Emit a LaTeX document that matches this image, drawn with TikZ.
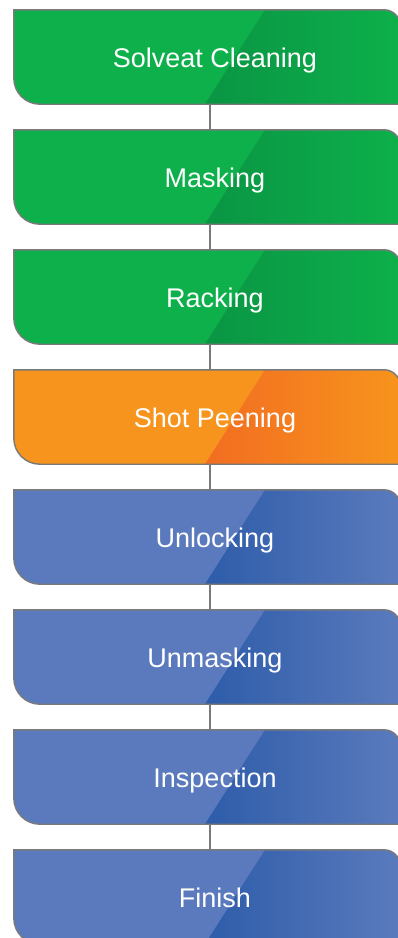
\documentclass[tikz,border=0pt]{standalone}
\usepackage{fontspec}
\setmainfont{Liberation Sans}
\usetikzlibrary{calc,positioning,backgrounds}
\definecolor{greenbase}{HTML}{0DB04B}
\definecolor{greendark}{HTML}{0A9544}
\definecolor{orangebase}{HTML}{F7941D}
\definecolor{orangedark}{HTML}{F26D21}
\definecolor{bluebase}{HTML}{5A7ABD}
\definecolor{bluedark}{HTML}{2E5CA9}
\definecolor{edgegray}{HTML}{7A7A7A}

\begin{document}
\begin{tikzpicture}[x=1pt,y=1pt,
  stepbox/.style={minimum width=386pt,minimum height=94pt,inner sep=0pt,
    text=white,font=\fontsize{27}{32}\selectfont,text height=20pt,text depth=0pt,
    execute at begin node=\hspace*{16pt}},
  boxshape/.style={insert path={(#1.north west) -- ([xshift=-16pt]#1.north east)
    arc[start angle=90,end angle=0,radius=16pt] -- (#1.south east)
    -- ([xshift=26pt]#1.south west) arc[start angle=270,end angle=180,radius=26pt] -- cycle}},
  outline/.style={draw=edgegray,line width=1.4pt},
  link/.style={draw=edgegray,line width=1.4pt}]
\useasboundingbox (0,0) rectangle (398,-938);
% process steps
\foreach \name/\txt/\base/\dark [count=\i] in {
    clean/Solveat Cleaning/greenbase/greendark,
    mask/Masking/greenbase/greendark,
    rack/Racking/greenbase/greendark,
    peen/Shot Peening/orangebase/orangedark,
    unlock/Unlocking/bluebase/bluedark,
    unmask/Unmasking/bluebase/bluedark,
    inspect/Inspection/bluebase/bluedark,
    finish/Finish/bluebase/bluedark}{
  \node[stepbox] (\name) at (207,{-57-(\i-1)*120}) {\txt};
  \begin{scope}[on background layer]
    \begin{scope}
      \clip[boxshape=\name];
      \fill[\base] (\name.north west) rectangle (\name.south east);
      \shade[left color=\dark,right color=\base]
        ([xshift=58pt]\name.north) -- (\name.north east)
        -- (\name.south east) -- ([xshift=-2pt]\name.south) -- cycle;
    \end{scope}
    \path[outline,boxshape=\name];
  \end{scope}
}
% connectors
\foreach \a/\b in {clean/mask,mask/rack,rack/peen,peen/unlock,
    unlock/unmask,unmask/inspect,inspect/finish}
  \draw[link] ([xshift=3pt]\a.south) -- ([xshift=3pt]\b.north);
\end{tikzpicture}
\end{document}
